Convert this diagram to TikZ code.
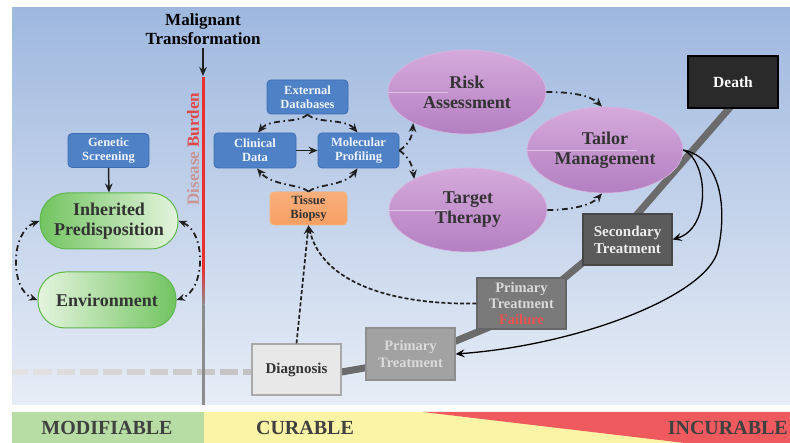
\documentclass[tikz,border=0pt]{standalone}
\usepackage{fontspec}
\setmainfont{Liberation Serif}
\usetikzlibrary{arrows.meta,shapes.geometric,calc}
\definecolor{bgtop}{HTML}{9FB8DF}
\definecolor{bgbot}{HTML}{E7EDF6}
\definecolor{bandgreen}{HTML}{B7DCA4}
\definecolor{bandyellow}{HTML}{FBF3A6}
\definecolor{bandred}{HTML}{EF5A5F}
\definecolor{bandtxt}{HTML}{404040}
\definecolor{burdenred}{HTML}{E8312F}
\definecolor{linegray}{HTML}{8C8C8C}
\definecolor{boxblue}{HTML}{4F81C6}
\definecolor{boxblueb}{HTML}{3D6CB2}
\definecolor{bluetxt}{HTML}{EEF2FA}
\definecolor{orangef}{HTML}{F8A064}
\definecolor{orangeb}{HTML}{F6BA7A}
\definecolor{greend}{HTML}{72C460}
\definecolor{greenl}{HTML}{E4F4DE}
\definecolor{greenb}{HTML}{5DB84B}
\definecolor{purt}{HTML}{D6AADC}
\definecolor{purb}{HTML}{B37FC1}
\definecolor{purborder}{HTML}{D9B8E0}
\definecolor{dtxt}{HTML}{333333}
\definecolor{stairgray}{HTML}{6B6B6B}
\definecolor{diagf}{HTML}{E8E8E8}
\definecolor{diagb}{HTML}{A9A9A9}
\definecolor{primf}{HTML}{A2A2A2}
\definecolor{primb}{HTML}{8F8F8F}
\definecolor{primt}{HTML}{DADADA}
\definecolor{failf}{HTML}{7A7A7A}
\definecolor{failb}{HTML}{666666}
\definecolor{failred}{HTML}{E8524F}
\definecolor{secf}{HTML}{5B5B5B}
\definecolor{secb}{HTML}{474747}
\definecolor{deathf}{HTML}{2A2A2A}
\definecolor{arrowc}{HTML}{202020}
\definecolor{dbgray}{HTML}{C99494}
\definecolor{dbred}{HTML}{DE4A4A}
\begin{document}
\begin{tikzpicture}[x=1pt,y=-1pt,
  bluebox/.style={rectangle, rounded corners=4pt, fill=boxblue, draw=boxblueb, line width=0.8pt,
    text=bluetxt, font=\bfseries\fontsize{12.5}{14}\selectfont, align=center, inner sep=0pt,
    minimum width=81pt, minimum height=34pt},
  pill/.style={rectangle, rounded corners=27pt, draw=greenb, line width=1pt, text=dtxt,
    font=\bfseries\fontsize{18}{20}\selectfont, align=center, inner sep=0pt,
    minimum width=138pt, minimum height=56pt},
  purell/.style={ellipse, top color=purt, bottom color=purb, draw=purborder, line width=0.6pt,
    text=dtxt, font=\bfseries\fontsize{18}{20}\selectfont, align=center, inner sep=0pt,
    minimum width=158pt, minimum height=84pt},
  stepbox/.style={rectangle, line width=1.2pt, align=center, inner sep=0pt,
    font=\bfseries\fontsize{14.5}{16.5}\selectfont, minimum width=89pt, minimum height=51pt},
  bandtext/.style={font=\bfseries\fontsize{20}{22}\selectfont, text=bandtxt, inner sep=0pt},
  dd/.style={line width=1.8pt, draw=arrowc, dash pattern=on 6pt off 3.5pt on 1.5pt off 3.5pt},
  dsh/.style={line width=1.7pt, draw=arrowc, dash pattern=on 4pt off 2.2pt},
  tip/.style={-{Stealth[length=9pt,width=7.5pt]}},
  btip/.style={{Stealth[length=8.5pt,width=7pt]}-{Stealth[length=8.5pt,width=7pt]}},
  otip/.style={-{Stealth[length=9pt,width=8pt,inset=3.5pt]}},
  solidarr/.style={line width=1.5pt, draw=arrowc}
]
\useasboundingbox (0,0) rectangle (790,443);
\fill[white] (0,0) rectangle (790,443);
\shade[top color=bgtop,bottom color=bgbot] (12,8) rectangle (790,405);

% bottom band
\fill[bandgreen] (12,412) rectangle (204,443);
\fill[bandyellow] (204,412) rectangle (790,443);
\fill[bandred] (423,412) -- (790,412) -- (790,443) -- (685,443) -- cycle;
\node[bandtext] (modif) at (107,428) {MODIFIABLE};
\node[bandtext] (curab) at (305,428) {CURABLE};
\node[bandtext, anchor=east] (incur) at (788,428) {INCURABLE};

% vertical disease burden line
\fill[burdenred] (202,77) rectangle (204.5,268);
\shade[top color=burdenred,bottom color=linegray] (202,268) rectangle (204.5,305);
\fill[linegray] (202,305) rectangle (204.5,405);

% faded dashed line (pre-diagnosis)
\begin{scope}
\clip (12,0) rectangle (252,443);
\foreach \k in {0,...,10} {
  \pgfmathsetmacro{\xa}{10+23.33*\k}
  \pgfmathsetmacro{\pc}{22+2.6*\k}
  \draw[line width=6pt, color=gray!\pc!white] (\xa,372) -- ++(18.3,0);
}
\end{scope}
\fill[linegray] (202,368) rectangle (204.5,376);

% staircase line
\coordinate (s1) at (296,380);
\coordinate (s2) at (410,360);
\coordinate (s3) at (521,314);
\coordinate (s4) at (627,226);
\coordinate (s5) at (733,104);
\draw[line width=7pt, stairgray] (s1) -- (s2) -- (s3) -- (s4) -- (s5);

% title
\node[font=\bfseries\fontsize{17}{19}\selectfont, align=center, inner sep=0pt] (mt) at (203,29) {Malignant\\Transformation};
\coordinate (mtend) at (203,76);
\draw[solidarr, tip] ($(mt.south)+(0,3)$) -- (mtend);

% disease burden label
\node[rotate=90, font=\bfseries\fontsize{17}{19}\selectfont, inner sep=0pt] (db) at (193,149)
  {\textcolor{dbgray}{Disease} \textcolor{dbred}{Burden}};

% left group
\node[bluebox] (gs) at (108.5,150.5) {Genetic\\Screening};
\node[pill, left color=greend, right color=greenl] (ip) at (109,221) {Inherited\\Predisposition};
\node[pill, left color=greenl, right color=greend] (env) at (107,300) {Environment};

% blue cluster
\node[bluebox] (ext) at (307.5,97) {External\\Databases};
\node[bluebox, minimum width=82pt, minimum height=35pt] (cd) at (255,150.5) {Clinical\\Data};
\node[bluebox, minimum height=35pt] (mp) at (358.5,150.5) {Molecular\\Profiling};
\node[bluebox, top color=orangef!85!white, bottom color=orangef, draw=orangeb, text=dtxt,
  minimum width=77pt, minimum height=33pt] (tb) at (308.5,208.5) {Tissue\\Biopsy};

% ellipses
\node[purell] (risk) at (467,92) {Risk\\Assessment};
\node[purell] (tgt) at (468,210) {Target\\Therapy};
\node[purell, minimum width=156pt, minimum height=86pt] (tm) at (605,150) {Tailor\\Management};
\draw[white, opacity=0.45, line width=0.8pt] (risk.west) -- ++(60,0);
\draw[white, opacity=0.45, line width=0.8pt] (tgt.west) -- ++(60,0);
\draw[white, opacity=0.45, line width=0.8pt] (tm.west) -- ++(110,0);

% treatment boxes
\node[stepbox, fill=diagf, draw=diagb, text=dtxt, font=\bfseries\fontsize{15}{17}\selectfont] (diag) at (296.5,369.5) {Diagnosis};
\node[stepbox, fill=primf, draw=primb, text=primt, minimum height=52pt] (prim) at (410.5,354) {Primary\\Treatment};
\node[stepbox, fill=failf, draw=failb, text=primt, font=\bfseries\fontsize{14.5}{16}\selectfont] (fail) at (521.5,303.5) {Primary\\Treatment\\\textcolor{failred}{Failure}};
\node[stepbox, fill=secf, draw=secb, text=white!93!black, font=\bfseries\fontsize{15}{17}\selectfont] (sec) at (627.5,239.5) {Secondary\\Treatment};
\node[stepbox, fill=deathf, draw=black, text=white, minimum width=90pt, minimum height=52pt,
  font=\bfseries\fontsize{15.5}{17}\selectfont] (death) at (733,82) {Death};

% arrows left group
\draw[solidarr, tip] (gs.south) -- (ip.north);
\draw[dd, btip] (ip.west) .. controls (10,232) and (10,290) .. (env.west);
\draw[dd, btip] (ip.east) .. controls (206,232) and (206,290) .. (env.east);

% blue cluster arrows
\draw[solidarr, tip] (cd.east) -- (mp.west);
\draw[dd, tip] (ext.south) .. controls (298,124) and (270,118) .. ($(cd.north)+(3,0)$);
\draw[dd, tip] (ext.south) .. controls (317,124) and (345,118) .. ($(mp.north)+(-1,0)$);
\draw[dd, tip] (tb.north) .. controls (300,184) and (272,186) .. ($(cd.south)+(2,0)$);
\draw[dd, tip] (tb.north) .. controls (317,184) and (345,186) .. ($(mp.south)+(-1,0)$);
\draw[dd, tip] (mp.east) .. controls (406,146) and (412,140) .. (risk.210);
\draw[dd, tip] (mp.east) .. controls (406,155) and (412,162) .. (tgt.150);
\draw[dd, tip] (risk.east) .. controls (570,92) and (590,95) .. ($(tm.north)+(-3,0)$);
\draw[dd, tip] (tgt.east) .. controls (572,210) and (592,205) .. ($(tm.south)+(-3,0)$);

% biopsy feedback
\draw[dsh, tip] (diag.north) -- (tb.south);
\draw[dsh, tip] (fail.west) .. controls (390,305) and (322,282) .. (tb.south);

% tailor management feedback
\draw[line width=1.3pt, draw=black, otip] (tm.east) .. controls (708,160) and (712,228) .. (sec.east);
\draw[line width=1.3pt, draw=black, otip] (tm.east) .. controls (722,158) and (727,210) .. (718,250)
  .. controls (708,295) and (580,345) .. (prim.east);
\end{tikzpicture}
\end{document}
